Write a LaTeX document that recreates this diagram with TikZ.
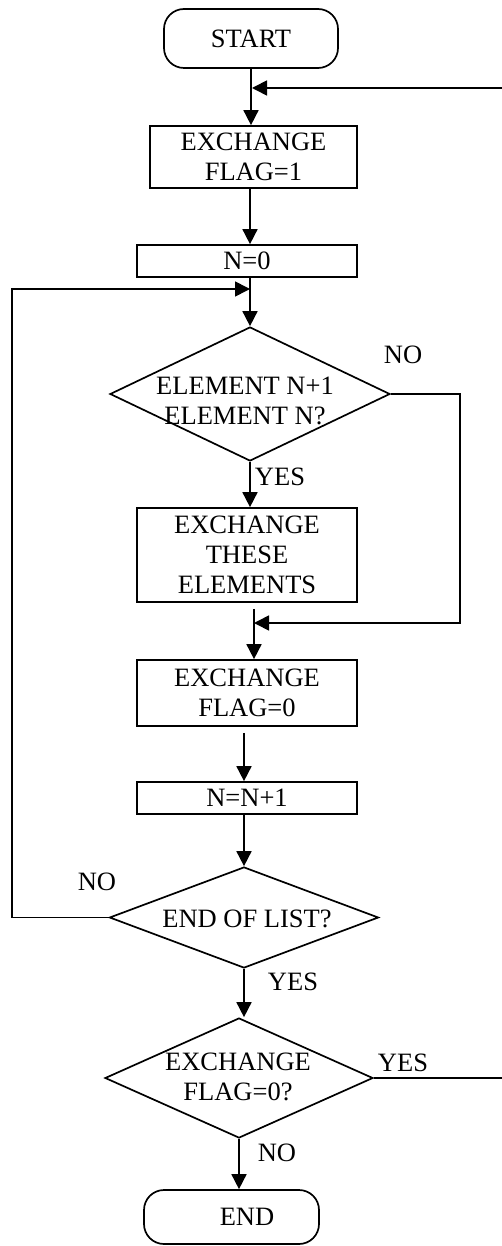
\documentclass[tikz,border=0pt]{standalone}
\usepackage{fontspec}
\setmainfont{Liberation Serif}
\usetikzlibrary{shapes.geometric,arrows.meta}

\begin{document}
\begin{tikzpicture}[x=1pt,y=-1pt,font=\fontsize{26.5}{30}\selectfont,
  proc/.style={draw,line width=1.7pt,minimum width=220pt,inner sep=0pt,align=center},
  term/.style={draw,line width=1.7pt,rounded corners=20pt,minimum width=175pt,inner sep=0pt},
  dec/.style={draw,line width=1.7pt,diamond,inner sep=0pt},
  txt/.style={align=center,inner sep=0pt},
  link/.style={line width=1.7pt},
  arr/.style={link,-{Triangle[length=15pt,width=15pt]}}]
\useasboundingbox (0,0) rectangle (502,1246);

\node[term,minimum width=174pt,minimum height=59pt] (start) at (251,38.5) {START};
\node[proc,minimum width=207pt,minimum height=62pt] (flag1) at (253.5,157) {EXCHANGE\\FLAG=1};
\node[proc,minimum height=32pt] (n0) at (247,261) {N=0};
\node[dec,minimum width=280pt,minimum height=134pt] (d1) at (250,394) {};
\node[txt] (d1t) at (245,401) {ELEMENT N+1\\ELEMENT N?};
\node[proc,minimum height=94pt] (swap) at (247,555) {EXCHANGE\\THESE\\ELEMENTS};
\node[proc,minimum height=66pt] (flag0) at (247,693) {EXCHANGE\\FLAG=0};
\node[proc,minimum height=32pt] (inc) at (247,798) {N=N+1};
\node[dec,minimum width=269pt,minimum height=101pt] (d2) at (244,917.5) {};
\node[txt] (d2t) at (247,919) {END OF LIST?};
\node[dec,minimum width=268pt,minimum height=120pt] (d3) at (239,1078) {};
\node[txt] (d3t) at (238,1076.5) {EXCHANGE\\FLAG=0?};
\node[term,minimum height=54pt] (end) at (231.5,1217) {\hspace*{31pt}END};

\node[txt] (no1) at (403,355) {NO};
\node[txt] (yes1) at (280,477) {YES};
\node[txt] (no2) at (97,882) {NO};
\node[txt] (yes2) at (293,982) {YES};
\node[txt] (yes3) at (403,1063) {YES};
\node[txt] (no3) at (277,1153) {NO};

\coordinate (rtop) at (502,88);
\coordinate (j0) at (252,88);
\coordinate (j1) at (250,289);
\coordinate (lft) at (12,289);
\coordinate (rgt) at (460,623);
\coordinate (j2) at (254,623);
\coordinate (rbot) at (502,1078);

\draw[arr] (start.south) -- (start.south |- flag1.north);
\draw[arr] (rtop) -- (j0);
\draw[arr] (d1.north |- flag1.south) -- (d1.north |- n0.north);
\draw[arr] (d1.north |- n0.south) -- (d1.north);
\draw[arr] (d2.west) -- (d2.west -| lft) |- (j1);
\draw[arr] (d1.south) -- (d1.south |- swap.north);
\draw[arr] (d1.east) -| (rgt) -- (j2);
\draw[arr,shorten <=6pt] (j2 |- swap.south) -- (j2 |- flag0.north);
\draw[arr,shorten <=6pt] (d2.north |- flag0.south) -- (d2.north |- inc.north);
\draw[arr] (d2.north |- inc.south) -- (d2.north);
\draw[arr] (d2.south) -- (d2.south |- d3.north);
\draw[link] (d3.east) -- (d3.east -| rbot);
\draw[arr] (d3.south) -- (d3.south |- end.north);
\end{tikzpicture}
\end{document}
